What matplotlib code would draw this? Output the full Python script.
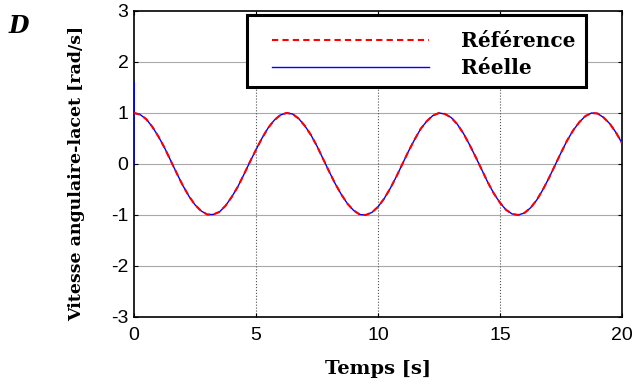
import numpy as np
import matplotlib.pyplot as plt
from matplotlib.patches import Rectangle

plt.rcParams["axes.unicode_minus"] = False

# time axis (s) and yaw rate (rad/s)
temps = np.arange(0, 20.01, 0.25)
reference = [
    1.00, 0.97, 0.88, 0.73, 0.54, 0.32, 0.07, -0.18, -0.42, -0.63,
    -0.80, -0.92, -0.99, -0.99, -0.94, -0.82, -0.65, -0.45, -0.21, 0.04,
    0.28, 0.51, 0.71, 0.86, 0.96, 1.00, 0.98, 0.89, 0.75, 0.57,
    0.35, 0.10, -0.15, -0.39, -0.60, -0.78, -0.91, -0.99, -1.00, -0.95,
    -0.84, -0.68, -0.48, -0.25, 0.00, 0.25, 0.48, 0.69, 0.84, 0.95,
    1.00, 0.98, 0.91, 0.78, 0.60, 0.38, 0.14, -0.11, -0.36, -0.58,
    -0.76, -0.90, -0.98, -1.00, -0.96, -0.86, -0.71, -0.51, -0.28, -0.03,
    0.22, 0.46, 0.66, 0.82, 0.94, 1.00, 0.99, 0.91, 0.79, 0.62,
    0.41,
]
# measured signal: starts at 0, jumps to 1.6 at t=0, then follows the reference
reelle_t = [0.0, 0.0] + list(temps)
reelle = [0.0, 1.6] + reference

xticks = [0, 5, 10, 15, 20]
yticks = [-3, -2, -1, 0, 1, 2, 3]

fig = plt.figure(figsize=(6.39, 3.90), dpi=100)
ax = fig.add_axes([0.2097, 0.1872, 0.7637, 0.7846])

ax.plot(reelle_t, reelle, color="blue", lw=1.0, label="Réelle", zorder=3)
ax.plot(temps, reference, color="red", ls="--", lw=1.5, dashes=(3, 2),
        label="Référence", zorder=4)

ax.set_xlim(0, 20)
ax.set_ylim(-3, 3)
ax.set_xticks(xticks)
ax.set_yticks(yticks)
ax.tick_params(direction="in", top=True, right=True, length=3,
               labelsize=14, pad=4)
ax.tick_params(axis="x", pad=7)
for lab in ax.get_xticklabels() + ax.get_yticklabels():
    lab.set_family("Liberation Sans")

for y in yticks[1:-1]:
    ax.axhline(y, color="#a8a8a8", lw=0.8, zorder=1)
for x in xticks[1:-1]:
    ax.axvline(x, color="#505050", lw=0.8, ls=":", zorder=1)

for sp in ax.spines.values():
    sp.set_linewidth(1.2)

ax.set_xlabel("Temps [s]", family="DejaVu Serif", fontweight="bold",
              fontsize=14, labelpad=12)
ax.set_ylabel("Vitesse angulaire-lacet [rad/s]", family="DejaVu Serif",
              fontweight="bold", fontsize=12.5)
ax.yaxis.set_label_coords(-0.10, 0.47)

# legend frame drawn as a box, entries placed inside it
ax.add_patch(Rectangle((0.232, 0.752), 0.694, 0.235, transform=ax.transAxes,
                       facecolor="white", edgecolor="black", lw=2.2,
                       zorder=5, clip_on=False))
handles, labels = ax.get_legend_handles_labels()
leg = ax.legend(handles[::-1], labels[::-1],
                bbox_to_anchor=(0.283, 0.935), loc="upper left",
                borderaxespad=0, borderpad=0, handlelength=7.8,
                handletextpad=1.6, labelspacing=0.35, frameon=False,
                prop={"family": "DejaVu Serif", "weight": "bold", "size": 14.5})
leg.set_zorder(6)

fig.text(0.013, 0.915, "D", family="DejaVu Serif", fontweight="bold",
         fontstyle="italic", fontsize=17, va="baseline")

fig.savefig("out.png", dpi=100)
